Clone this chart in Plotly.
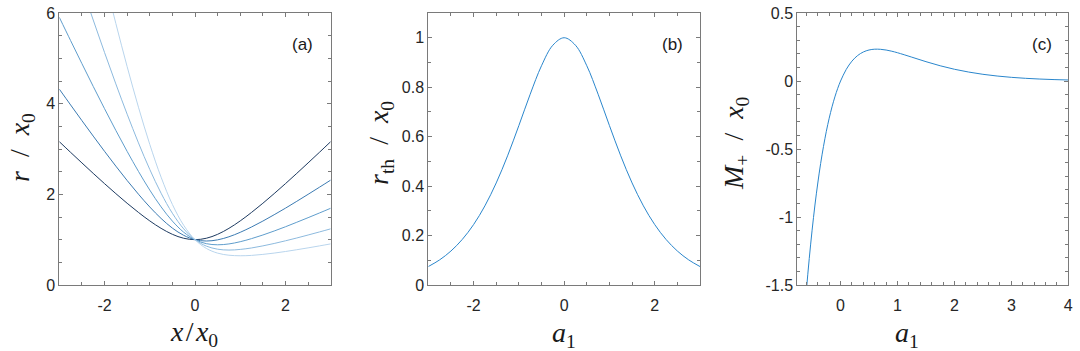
import plotly.graph_objects as go

# ---------------- data ----------------
X_A = [-3.0, -2.75, -2.5, -2.25, -2.0, -1.75, -1.5, -1.25, -1.0, -0.75, -0.5, -0.25, 0.0,
       0.25, 0.5, 0.75, 1.0, 1.25, 1.5, 1.75, 2.0, 2.25, 2.5, 2.75, 3.0]
R_A1 = [3.162, 2.926, 2.693, 2.462, 2.236, 2.016, 1.803, 1.601, 1.414, 1.250, 1.118, 1.031, 1.000,
        1.031, 1.118, 1.250, 1.414, 1.601, 1.803, 2.016, 2.236, 2.462, 2.693, 2.926, 3.162]
R_A2 = [4.321, 3.972, 3.626, 3.285, 2.949, 2.622, 2.305, 2.003, 1.721, 1.468, 1.255, 1.096, 1.000,
        0.970, 0.996, 1.064, 1.162, 1.280, 1.410, 1.550, 1.695, 1.846, 2.000, 2.156, 2.314]
R_A3 = [5.905, 5.391, 4.883, 4.381, 3.890, 3.410, 2.947, 2.506, 2.094, 1.724, 1.410, 1.165, 1.000,
        0.912, 0.887, 0.906, 0.955, 1.023, 1.103, 1.191, 1.285, 1.384, 1.485, 1.588, 1.693]
R_A4 = [8.069, 7.317, 6.575, 5.845, 5.130, 4.436, 3.768, 3.135, 2.549, 2.025, 1.583, 1.239, 1.000,
        0.858, 0.790, 0.771, 0.785, 0.817, 0.863, 0.916, 0.975, 1.037, 1.103, 1.170, 1.239]
R_A5 = [11.03, 9.931, 8.853, 7.796, 6.766, 5.770, 4.817, 3.922, 3.102, 2.379, 1.777, 1.317, 1.000,
        0.807, 0.703, 0.657, 0.645, 0.653, 0.675, 0.704, 0.739, 0.778, 0.819, 0.862, 0.907]
A_SERIES = [R_A1, R_A2, R_A3, R_A4, R_A5]
A_COLORS = ["#1d3a60", "#3c7bb2", "#5f9dcc", "#8dbade", "#b9d5ed"]

X_B = [-3.0, -2.75, -2.5, -2.25, -2.0, -1.75, -1.5, -1.25, -1.0, -0.75, -0.5, -0.25, 0.0,
       0.25, 0.5, 0.75, 1.0, 1.25, 1.5, 1.75, 2.0, 2.25, 2.5, 2.75, 3.0]
R_TH = [0.0746, 0.1016, 0.1374, 0.1842, 0.2443, 0.3200, 0.4128, 0.5223, 0.6448, 0.7715, 0.8867, 0.9696, 1.0,
        0.9696, 0.8867, 0.7715, 0.6448, 0.5223, 0.4128, 0.3200, 0.2443, 0.1842, 0.1374, 0.1016, 0.0746]

X_C = [-0.75, -0.7, -0.65, -0.6, -0.55, -0.5, -0.45, -0.4, -0.35, -0.3, -0.25, -0.2, -0.15, -0.1, -0.05, 0.0,
       0.1, 0.2, 0.3, 0.4, 0.5, 0.6, 0.7, 0.8, 0.9, 1.0, 1.25, 1.5, 1.75, 2.0, 2.25, 2.5, 2.75, 3.0,
       3.25, 3.5, 3.75, 4.0]
M_PLUS = [-2.436, -2.102, -1.804, -1.540, -1.305, -1.097, -0.912, -0.750, -0.607, -0.481, -0.370, -0.274,
          -0.190, -0.117, -0.054, 0.0,
          0.0855, 0.1461, 0.1873, 0.2134, 0.2280, 0.2338, 0.2331, 0.2277, 0.2189, 0.2079, 0.1755, 0.1422,
          0.1120, 0.0864, 0.0657, 0.0493, 0.0366, 0.0269, 0.0197, 0.0143, 0.0104, 0.0075]

TICKS_A_X = [-2, 0, 2]
TICKTEXT_A_X = ["-2", "0", "2"]
TICKS_A_Y = [0, 2, 4, 6]
TICKTEXT_A_Y = ["0", "2", "4", "6"]
TICKS_B_X = [-2, 0, 2]
TICKTEXT_B_X = ["-2", "0", "2"]
TICKS_B_Y = [0, 0.2, 0.4, 0.6, 0.8, 1]
TICKTEXT_B_Y = ["0", "0.2", "0.4", "0.6", "0.8", "1"]
TICKS_C_X = [0, 1, 2, 3, 4]
TICKTEXT_C_X = ["0", "1", "2", "3", "4"]
TICKS_C_Y = [-1.5, -1, -0.5, 0, 0.5]
TICKTEXT_C_Y = ["-1.5", "-1", "-0.5", "0", "0.5"]

# ---------------- layout helpers ----------------
W, H = 1080, 351
def px_x(p):
    return p / W
def px_y(p):
    return 1 - p / H

TICK_FONT = dict(family="Liberation Sans, Arial, sans-serif", size=16, color="#262626")
AXCOL = "#7a7a7a"
LINE_BLUE = "#2a86cc"

def axis(domain, rng, tickvals, ticktext, dtick_minor, anchor, standoff):
    return dict(domain=domain, range=rng, tickmode="array", tickvals=tickvals, ticktext=ticktext,
                showline=True, linecolor=AXCOL, linewidth=1, mirror="allticks",
                ticks="inside", ticklen=4, tickcolor=AXCOL, tickwidth=1,
                showgrid=False, zeroline=False, tickfont=TICK_FONT, automargin=False,
                ticklabelstandoff=standoff,
                minor=dict(ticks="inside", ticklen=3, tickcolor=AXCOL, dtick=dtick_minor, showgrid=False),
                anchor=anchor)

y_dom = [px_y(285), px_y(13)]
xa_dom = [px_x(59.3), px_x(330.7)]
xb_dom = [px_x(428.3), px_x(700)]
xc_dom = [px_x(797.3), px_x(1068.3)]

fig = go.Figure()
for ser, col in zip(A_SERIES, A_COLORS):
    fig.add_trace(go.Scatter(x=X_A, y=ser, mode="lines", line=dict(color=col, width=1, shape="spline"),
                             xaxis="x", yaxis="y", showlegend=False))
fig.add_trace(go.Scatter(x=X_B, y=R_TH, mode="lines", line=dict(color=LINE_BLUE, width=1, shape="spline"),
                         xaxis="x2", yaxis="y2", showlegend=False))
fig.add_trace(go.Scatter(x=X_C, y=M_PLUS, mode="lines", line=dict(color=LINE_BLUE, width=1, shape="spline"),
                         xaxis="x3", yaxis="y3", showlegend=False))

fig.update_layout(
    width=W, height=H, margin=dict(l=0, r=0, t=0, b=0),
    paper_bgcolor="white", plot_bgcolor="white", showlegend=False,
    xaxis=axis(xa_dom, [-3, 3], TICKS_A_X, TICKTEXT_A_X, 0.5, "y", 6),
    yaxis=axis(y_dom, [0, 6.0001], TICKS_A_Y, TICKTEXT_A_Y, 0.5, "x", 0),
    xaxis2=axis(xb_dom, [-3, 3], TICKS_B_X, TICKTEXT_B_X, 0.5, "y2", 6),
    yaxis2=axis(y_dom, [0, 1.1], TICKS_B_Y, TICKTEXT_B_Y, 0.1, "x2", 0),
    xaxis3=axis(xc_dom, [-0.76, 4.0001], TICKS_C_X, TICKTEXT_C_X, 0.2, "y3", 6),
    yaxis3=axis(y_dom, [-1.5, 0.5], TICKS_C_Y, TICKTEXT_C_Y, 0.1, "x3", 0),
)

MATH = dict(family="Liberation Serif, Times New Roman, serif", size=28, color="#1a1a1a")
LAB = dict(family="Liberation Sans, Arial, sans-serif", size=17, color="#1a1a1a")
SP = "\u00a0\u00a0"
TH = "\u200a"
ann = [
    (21, 148, "<i>r</i>" + SP + "/" + SP + "<i>x</i><sub>0</sub>", -90, MATH),
    (194, 333, "<i>x</i>" + TH + "/" + TH + "<i>x</i><sub>0</sub>", 0, MATH),
    (380, 143, "<i>r</i><sub>th</sub>" + SP + "/" + SP + "<i>x</i><sub>0</sub>", -90, MATH),
    (564, 334, "<i>a</i><sub>1</sub>", 0, MATH),
    (735, 143, "<i>M</i><sub>+</sub>" + SP + "/" + SP + "<i>x</i><sub>0</sub>", -90, MATH),
    (907, 334, "<i>a</i><sub>1</sub>", 0, MATH),
    (302, 44, "(a)", 0, LAB),
    (672, 44, "(b)", 0, LAB),
    (1042, 44, "(c)", 0, LAB),
]
for x, y, t, ang, f in ann:
    fig.add_annotation(x=px_x(x), y=px_y(y), xref="paper", yref="paper", text=t, showarrow=False,
                       textangle=ang, font=f, xanchor="center", yanchor="middle")

fig.write_html("out.html", config={"displayModeBar": False},
               post_script="document.body.style.margin='0px';")
